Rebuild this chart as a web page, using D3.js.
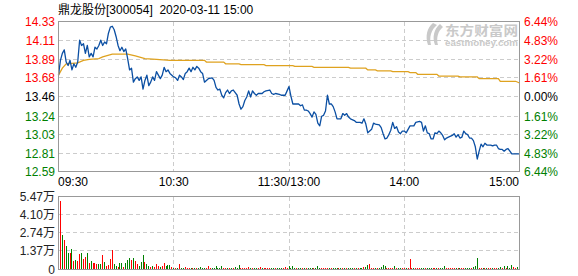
<!DOCTYPE html>
<html>
<head>
<meta charset="utf-8">
<script src="https://cdn.jsdelivr.net/npm/d3@7"></script>
<style>
  body { margin: 0; background: #fff; }
  text { font-family: "Liberation Sans", Arial, "Noto Sans CJK SC", sans-serif; font-size: 12px; }
</style>
</head>
<body>
<svg width="578" height="276"></svg>
<script>
// ---- data ----
const title = '鼎龙股份[300054]  2020-03-11 15:00';
const prevClose = 13.46;
const priceTicks = [14.33, 14.11, 13.89, 13.68, 13.46, 13.24, 13.03, 12.81, 12.59];
const pctTicks = ['6.44%', '4.83%', '3.22%', '1.61%', '0.00%', '1.61%', '3.22%', '4.83%', '6.44%'];
const timeTicks = [0, 60, 120, 180, 240];
const timeLabels = ['09:30', '10:30', '11:30/13:00', '14:00', '15:00'];
const volTicks = [0, 1.37, 2.74, 4.10, 5.47];
const volLabels = ['0', '1.37万', '2.74万', '4.10万', '5.47万'];

// [minute from 09:30, price]
const price = [
  [0, 13.71], [1, 13.88], [2, 13.96], [3, 14.00], [4, 13.86], [5, 13.82], [6, 13.88], [7, 13.77],
  [8, 13.84], [9, 13.80], [10, 13.86], [11, 14.11], [12, 14.05], [13, 14.07], [14, 13.96], [15, 14.05],
  [16, 13.92], [17, 13.96], [18, 13.92], [19, 14.03], [20, 14.01], [21, 14.05], [22, 14.11], [23, 14.05],
  [24, 14.09], [25, 14.07], [26, 14.19], [27, 14.26], [28, 14.27], [29, 14.23], [30, 14.15], [31, 14.05],
  [32, 13.99], [33, 14.03], [34, 13.98], [35, 14.01], [36, 13.90], [37, 13.77], [38, 13.79], [39, 13.63],
  [40, 13.67], [41, 13.69], [42, 13.65], [43, 13.69], [44, 13.55], [45, 13.65], [46, 13.71], [47, 13.59],
  [48, 13.63], [49, 13.69], [50, 13.65], [51, 13.75], [52, 13.71], [53, 13.67], [54, 13.71], [55, 13.80],
  [56, 13.75], [57, 13.77], [58, 13.73], [59, 13.71], [60, 13.69], [61, 13.68], [62, 13.65], [63, 13.71],
  [64, 13.69], [65, 13.66], [66, 13.73], [67, 13.75], [68, 13.79], [69, 13.75], [70, 13.80], [71, 13.77],
  [72, 13.81], [73, 13.79], [74, 13.75], [75, 13.73], [76, 13.63], [77, 13.65], [78, 13.67], [80, 13.68],
  [81, 13.65], [82, 13.57], [83, 13.54], [84, 13.55], [85, 13.48], [86, 13.45], [87, 13.51], [88, 13.54],
  [89, 13.50], [90, 13.53], [91, 13.54], [92, 13.51], [93, 13.48], [94, 13.38], [95, 13.32], [96, 13.35],
  [97, 13.42], [98, 13.46], [99, 13.53], [100, 13.46], [101, 13.53], [102, 13.50], [103, 13.48], [104, 13.50],
  [106, 13.50], [107, 13.52], [108, 13.53], [110, 13.54], [111, 13.50], [112, 13.49], [113, 13.50], [115, 13.49],
  [116, 13.48], [118, 13.48], [119, 13.53], [120, 13.58], [121, 13.47], [122, 13.38], [125, 13.38], [126, 13.36],
  [127, 13.37], [128, 13.31], [129, 13.31], [130, 13.30], [131, 13.27], [132, 13.23], [133, 13.29], [134, 13.26],
  [135, 13.16], [136, 13.13], [137, 13.24], [138, 13.25], [139, 13.30], [140, 13.48], [141, 13.38], [142, 13.38],
  [143, 13.35], [144, 13.29], [145, 13.21], [147, 13.21], [148, 13.27], [149, 13.25], [150, 13.27], [151, 13.23],
  [152, 13.21], [154, 13.19], [155, 13.17], [157, 13.17], [158, 13.16], [159, 13.21], [160, 13.15], [161, 13.05],
  [162, 13.07], [163, 13.09], [164, 13.16], [165, 13.15], [167, 13.14], [168, 13.11], [169, 13.04], [170, 12.98],
  [171, 12.99], [172, 13.03], [173, 13.08], [174, 13.17], [175, 13.10], [176, 13.12], [177, 13.06], [178, 13.04],
  [179, 13.07], [180, 13.07], [181, 13.05], [182, 13.09], [183, 13.13], [185, 13.13], [186, 13.17], [188, 13.18],
  [189, 13.17], [190, 13.07], [191, 13.13], [192, 13.05], [193, 13.04], [194, 12.98], [195, 12.98], [196, 13.05],
  [197, 13.04], [198, 13.07], [199, 13.05], [200, 13.02], [201, 12.97], [202, 12.99], [203, 13.00], [205, 13.02],
  [206, 13.04], [207, 13.00], [208, 13.03], [209, 12.99], [210, 13.00], [211, 13.07], [212, 13.04], [213, 13.03],
  [214, 12.99], [215, 12.99], [216, 12.96], [217, 12.89], [218, 12.75], [219, 12.84], [220, 12.92], [221, 12.89],
  [222, 12.93], [223, 12.91], [225, 12.91], [226, 12.90], [227, 12.91], [228, 12.91], [229, 12.87], [230, 12.86],
  [231, 12.86], [232, 12.84], [233, 12.86], [234, 12.87], [235, 12.84], [236, 12.81], [240, 12.81]
];

// [minute, average price]
const avgPrice = [
  [0, 13.71], [2, 13.79], [4, 13.84], [10, 13.85], [13, 13.88], [16, 13.89], [21, 13.90], [23, 13.92],
  [28, 13.95], [36, 13.95], [40, 13.93], [45, 13.90], [51, 13.89], [58, 13.88], [76, 13.88], [77, 13.86],
  [86, 13.86], [87, 13.84], [94, 13.84], [95, 13.83], [107, 13.83], [108, 13.82], [122, 13.82], [123, 13.81],
  [132, 13.81], [133, 13.80], [151, 13.80], [152, 13.79], [160, 13.79], [161, 13.77], [165, 13.77], [166, 13.76],
  [173, 13.76], [174, 13.75], [182, 13.75], [183, 13.74], [186, 13.74], [187, 13.72], [197, 13.72], [198, 13.70],
  [208, 13.70], [209, 13.69], [218, 13.69], [219, 13.67], [229, 13.67], [230, 13.64], [238, 13.64], [240, 13.62]
];

// volume per minute (万), minutes 1..240
const volume = [
  5.08, 2.53, 2.16, 1.73, 1.19, 1.19, 1.49, 0.62, 0.67, 0.62,
  1.12, 1.19, 0.74, 0.87, 1.19, 0.42, 0.57, 0.42, 0.42, 0.37,
  0.37, 0.37, 1.04, 0.50, 0.20, 0.30, 0.74, 1.41, 0.37, 0.20,
  0.15, 0.42, 0.42, 0.15, 0.42, 0.67, 0.82, 0.67, 0.82, 0.57,
  0.37, 0.25, 0.50, 1.04, 0.50, 0.37, 0.20, 0.15, 0.20, 0.15,
  0.37, 0.25, 0.15, 0.25, 0.42, 0.20, 0.30, 0.30, 0.12, 0.08,
  0.08, 0.08, 0.37, 0.10, 0.08, 0.12, 0.10, 0.08, 0.10, 0.07,
  0.10, 0.08, 0.10, 0.12, 0.08, 0.10, 0.10, 0.25, 0.08, 0.10,
  0.07, 0.25, 0.10, 0.08, 0.22, 0.08, 0.10, 0.07, 0.08, 0.10,
  0.08, 0.12, 0.10, 0.32, 0.08, 0.07, 0.10, 0.08, 0.12, 0.07,
  0.08, 0.10, 0.07, 0.08, 0.12, 0.07, 0.08, 0.10, 0.07, 0.08,
  0.10, 0.07, 0.08, 0.07, 0.10, 0.08, 0.07, 0.12, 0.08, 0.25,
  0.10, 0.20, 0.08, 0.07, 0.10, 0.08, 0.07, 0.08, 0.10, 0.07,
  0.08, 0.07, 0.10, 0.08, 0.20, 0.08, 0.07, 0.10, 0.08, 0.07,
  0.08, 0.07, 0.08, 0.10, 0.07, 0.08, 0.07, 0.10, 0.08, 0.07,
  0.08, 0.07, 0.10, 0.07, 0.08, 0.07, 0.08, 0.10, 0.12, 0.15,
  0.32, 0.37, 0.10, 0.08, 0.07, 0.08, 0.10, 0.12, 0.30, 0.22,
  0.08, 0.07, 0.10, 0.08, 0.20, 0.08, 0.07, 0.08, 0.07, 0.08,
  0.07, 0.10, 0.74, 0.08, 0.07, 0.08, 0.07, 0.10, 0.08, 0.07,
  0.08, 0.07, 0.10, 0.08, 0.07, 0.08, 0.07, 0.10, 0.08, 0.10,
  0.25, 0.08, 0.07, 0.08, 0.07, 0.10, 0.08, 0.07, 0.08, 0.07,
  0.10, 0.08, 0.07, 0.08, 0.10, 0.12, 0.25, 0.82, 0.10, 0.08,
  0.07, 0.08, 0.10, 0.07, 0.08, 0.07, 0.08, 0.10, 0.08, 0.12,
  0.08, 0.20, 0.08, 0.20, 0.10, 0.32, 0.12, 0.08, 0.15, 0.67
];
// r = up minute, g = down minute, minutes 1..240
const volDir = (
  'rgrggrgrgr' + 'rgrrgrgrrr' + 'ggrgrrrrgg' + 'rggrgggrgr' + 'rgggrggrgr' + 'rrgrrgggrg' +
  'rgrggrrrgr' + 'grggggrrrg' + 'gggggrrgrg' + 'rgggrrrrrg' + 'rggrrgrrrr' + 'ggrgggrrrg' +
  'gggrggrgrg' + 'ggrgggrrrr' + 'grgggrgrgr' + 'gggrgrggrg' + 'grrrgrgggg' + 'rrrrgrggrr' +
  'grrrgrrrgg' + 'rgggrrgrgg' + 'grrrrrgrgr' + 'rgggrgggrr' + 'grgrrgrrgg' + 'rgrgggrrgr'
).split('');

// ---- drawing ----
const svg = d3.select('svg');
const red = '#ff0000';
const green = '#008000';
const gridColor = '#cccccc';
const snap = v => Math.floor(v) + 0.5;

const x = d3.scaleLinear().domain([0, 240]).range([58.5, 519.5]);
const y = d3.scaleLinear().domain([12.59, 14.33]).range([173, 21]);
const yv = d3.scaleLinear().domain([0, 5.47]).range([269, 196]);

const plotTop = 21.5, plotBottom = 171.5;
const volTop = 196.5, volBottom = 269.5;
const left = 58.5, right = snap(x(240));

// watermark
const wm = svg.append('g').attr('fill', '#c9c9c9');
wm.append('path')
  .attr('d', 'M433,23 C427,28 425,36 428,45 L431,45 C429,37 431,30 437,25 Z M440,24 C434,29 432,37 435,45 L438,45 C436,38 438,31 443,27 Z');
wm.append('text')
  .attr('x', 445).attr('y', 35)
  .style('font-family', '"Noto Sans CJK SC", sans-serif')
  .style('font-size', '13px').style('font-weight', 'bold')
  .attr('textLength', 73).attr('lengthAdjust', 'spacingAndGlyphs')
  .text('东方财富网');
wm.append('text')
  .attr('x', 445).attr('y', 46)
  .style('font-size', '9px').style('font-weight', 'bold')
  .attr('textLength', 73).attr('lengthAdjust', 'spacingAndGlyphs')
  .text('eastmoney.com');

// title
svg.append('text')
  .attr('x', 58).attr('y', 14)
  .attr('fill', '#000')
  .attr('xml:space', 'preserve')
  .style('white-space', 'pre')
  .text(title);

// price grid
const grid = svg.append('g')
  .attr('stroke', gridColor).attr('stroke-dasharray', '4,3').attr('shape-rendering', 'crispEdges');
grid.selectAll('line.h')
  .data(priceTicks.slice(1, -1))
  .enter().append('line')
    .attr('x1', left).attr('x2', right)
    .attr('y1', d => snap(y(d))).attr('y2', d => snap(y(d)));
grid.selectAll('line.v')
  .data(timeTicks.slice(1, -1))
  .enter().append('line')
    .attr('x1', d => snap(x(d))).attr('x2', d => snap(x(d)))
    .attr('y1', plotTop).attr('y2', plotBottom);

// volume grid
grid.selectAll('line.vh')
  .data(volTicks.slice(1, -1))
  .enter().append('line')
    .attr('x1', left).attr('x2', right)
    .attr('y1', d => snap(yv(d))).attr('y2', d => snap(yv(d)));
grid.selectAll('line.vv')
  .data(timeTicks.slice(1, -1))
  .enter().append('line')
    .attr('x1', d => snap(x(d))).attr('x2', d => snap(x(d)))
    .attr('y1', volTop).attr('y2', volBottom);

// lines
const line = d3.line().x(d => x(d[0])).y(d => y(d[1]));
svg.append('path')
  .datum(avgPrice)
  .attr('fill', 'none').attr('stroke', '#dfa21f').attr('stroke-width', 1.3)
  .attr('d', line);
svg.append('path')
  .datum(price)
  .attr('fill', 'none').attr('stroke', '#0b4fa3').attr('stroke-width', 1.3)
  .attr('stroke-linejoin', 'round')
  .attr('d', line);

// volume bars
svg.append('g').attr('shape-rendering', 'crispEdges')
  .selectAll('rect')
  .data(volume)
  .enter().append('rect')
    .attr('x', (d, i) => Math.floor(x(i + 1)))
    .attr('width', 1)
    .attr('y', d => Math.round(yv(d)))
    .attr('height', d => Math.max(1, 270 - Math.round(yv(d))))
    .attr('fill', (d, i) => (volDir[i] === 'r' ? red : green));

// borders
const border = svg.append('g').attr('fill', 'none').attr('stroke', '#999').attr('shape-rendering', 'crispEdges');
border.append('rect').attr('x', left).attr('y', plotTop).attr('width', right - left).attr('height', plotBottom - plotTop);
border.append('rect').attr('x', left).attr('y', volTop).attr('width', right - left).attr('height', volBottom - volTop);

// price labels, left and right
const labelColor = v => (v > prevClose ? red : v < prevClose ? green : '#000');
const labelY = (d, i) => (i === priceTicks.length - 1 ? plotBottom : snap(y(d)));
svg.append('g').selectAll('text')
  .data(priceTicks)
  .enter().append('text')
    .attr('x', 55).attr('y', labelY)
    .attr('text-anchor', 'end').attr('dominant-baseline', 'central')
    .attr('fill', d => labelColor(d))
    .text(d => d.toFixed(2));
svg.append('g').selectAll('text')
  .data(pctTicks)
  .enter().append('text')
    .attr('x', 524).attr('y', (d, i) => labelY(priceTicks[i], i))
    .attr('dominant-baseline', 'central')
    .attr('fill', (d, i) => labelColor(priceTicks[i]))
    .text(d => d);

// time labels
svg.append('g').selectAll('text')
  .data(timeTicks)
  .enter().append('text')
    .attr('x', (d, i) => (i === 0 ? 58 : i === timeTicks.length - 1 ? 519 : x(d)))
    .attr('y', 186)
    .attr('text-anchor', (d, i) => (i === 0 ? 'start' : i === timeTicks.length - 1 ? 'end' : 'middle'))
    .attr('fill', '#000')
    .text((d, i) => timeLabels[i]);

// volume labels
svg.append('g').selectAll('text')
  .data(volTicks)
  .enter().append('text')
    .attr('x', 55).attr('y', d => snap(yv(d)))
    .attr('text-anchor', 'end').attr('dominant-baseline', 'central')
    .attr('fill', '#222')
    .text((d, i) => volLabels[i]);
</script>
</body>
</html>
